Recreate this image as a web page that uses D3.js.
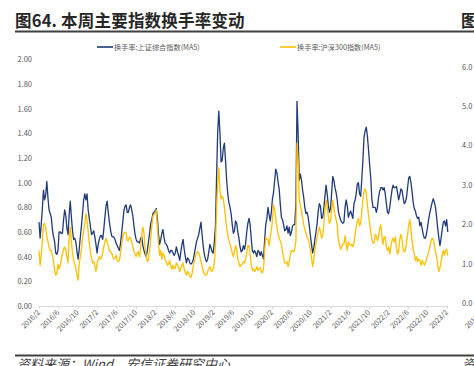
<!DOCTYPE html>
<html><head><meta charset="utf-8">
<script src="https://cdn.jsdelivr.net/npm/d3@7"></script>
<style>
html,body{margin:0;padding:0;background:#fff;}
svg{display:block;}
</style>
</head><body>
<svg id="chart" width="474" height="366"></svg>
<script>
// ---------- data ----------
const titleText = "图64. 本周主要指数换手率变动";
const seriesNames = ["换手率:上证综合指数(MA5)", "换手率:沪深300指数(MA5)"];
const sourceText = "资料来源：Wind，安信证券研究中心";
const startDate = "2016-02-01";          // first weekly observation
const stepDays = 7;                       // weekly observations
const xTickLabels = ["2016/2","2016/6","2016/10","2017/2","2017/6","2017/10","2018/2","2018/6","2018/10",
  "2019/2","2019/6","2019/10","2020/2","2020/6","2020/10","2021/2","2021/6","2021/10","2022/2","2022/6","2022/10","2023/2"];
const yTicks = [0,0.2,0.4,0.6,0.8,1.0,1.2,1.4,1.6,1.8,2.0];
const nextChartYLabels = ["6.0","5.0","4.0","3.0","2.0","1.0","0.0"];

const shComposite = [
0.68,0.55,0.66,0.79,0.94,0.86,0.90,1.01,0.88,0.78,
0.75,0.72,0.62,0.56,0.52,0.43,0.42,0.45,0.60,0.60,
0.59,0.59,0.70,0.78,0.73,0.63,0.58,0.74,0.85,0.72,
0.61,0.54,0.55,0.52,0.44,0.38,0.46,0.56,0.65,0.75,
0.86,0.91,0.86,0.91,0.78,0.71,0.65,0.58,0.59,0.61,
0.56,0.50,0.43,0.50,0.54,0.57,0.57,0.54,0.62,0.72,
0.81,0.85,0.76,0.68,0.62,0.57,0.56,0.56,0.54,0.51,
0.49,0.47,0.45,0.51,0.59,0.68,0.77,0.81,0.82,0.76,
0.76,0.80,0.82,0.78,0.73,0.65,0.58,0.54,0.52,0.52,
0.51,0.55,0.56,0.49,0.45,0.42,0.40,0.45,0.52,0.59,
0.67,0.70,0.75,0.76,0.77,0.79,0.71,0.58,0.50,0.54,
0.59,0.62,0.55,0.51,0.50,0.48,0.45,0.43,0.45,0.45,
0.43,0.41,0.43,0.48,0.44,0.41,0.37,0.44,0.50,0.54,
0.46,0.40,0.35,0.39,0.38,0.35,0.34,0.35,0.37,0.42,
0.47,0.52,0.55,0.58,0.63,0.68,0.58,0.49,0.42,0.38,
0.36,0.38,0.44,0.50,0.47,0.44,0.43,0.52,0.65,1.05,
1.42,1.58,1.40,1.17,1.18,1.28,1.32,1.18,1.02,0.91,
0.84,0.80,0.75,0.66,0.59,0.61,0.69,0.67,0.60,0.55,
0.48,0.44,0.45,0.49,0.46,0.51,0.60,0.67,0.71,0.66,
0.55,0.45,0.43,0.45,0.43,0.40,0.45,0.44,0.41,0.44,
0.41,0.38,0.53,0.66,0.71,0.80,0.74,0.69,0.76,0.87,
0.92,1.02,1.11,1.08,1.01,0.95,0.83,0.72,0.70,0.66,
0.61,0.62,0.65,0.59,0.64,0.57,0.60,0.65,0.66,0.66,
0.84,1.66,1.40,1.02,1.07,1.02,0.94,0.88,0.80,0.75,
0.76,0.72,0.65,0.57,0.50,0.43,0.47,0.54,0.60,0.67,
0.77,0.83,0.81,0.71,0.72,0.79,0.89,0.98,0.91,0.82,
0.76,0.79,0.92,1.05,1.02,0.96,0.92,0.86,0.77,0.73,
0.70,0.68,0.67,0.68,0.80,0.86,0.81,0.72,0.75,0.77,
0.74,0.71,0.83,0.86,0.91,0.99,1.00,0.91,0.89,1.03,
1.18,1.37,1.42,1.45,1.38,1.27,1.15,1.04,0.87,0.80,
0.80,0.80,0.76,0.80,0.88,0.93,0.96,0.96,0.94,0.96,
0.91,0.83,0.76,0.75,0.80,0.87,0.94,0.98,0.96,0.96,
0.97,0.92,0.86,0.90,0.95,0.94,0.88,0.83,0.84,0.88,
0.96,1.04,1.05,1.00,0.93,0.84,0.79,0.77,0.73,0.71,
0.72,0.65,0.68,0.63,0.58,0.55,0.55,0.59,0.65,0.71,
0.76,0.80,0.84,0.87,0.84,0.80,0.72,0.63,0.55,0.49,
0.55,0.62,0.68,0.69,0.65,0.70,0.60];

const csi300 = [
0.45,0.33,0.41,0.53,0.66,0.67,0.64,0.56,0.52,0.48,
0.45,0.45,0.41,0.36,0.29,0.25,0.26,0.34,0.30,0.33,
0.38,0.42,0.46,0.48,0.45,0.40,0.35,0.56,0.64,0.52,
0.43,0.37,0.34,0.30,0.25,0.21,0.34,0.40,0.46,0.55,
0.61,0.67,0.75,0.69,0.61,0.51,0.44,0.39,0.35,0.36,
0.33,0.28,0.34,0.38,0.40,0.38,0.39,0.43,0.48,0.52,
0.55,0.52,0.49,0.45,0.44,0.43,0.40,0.38,0.39,0.41,
0.37,0.36,0.37,0.42,0.50,0.56,0.59,0.60,0.59,0.53,
0.53,0.56,0.55,0.52,0.48,0.44,0.42,0.40,0.43,0.44,
0.40,0.47,0.57,0.64,0.59,0.47,0.40,0.36,0.38,0.45,
0.54,0.65,0.73,0.74,0.75,0.78,0.64,0.50,0.41,0.45,
0.38,0.43,0.41,0.37,0.36,0.33,0.34,0.37,0.32,0.30,
0.33,0.30,0.31,0.35,0.33,0.31,0.28,0.31,0.33,0.35,
0.30,0.27,0.25,0.28,0.27,0.24,0.23,0.26,0.32,0.36,
0.40,0.43,0.44,0.43,0.40,0.36,0.32,0.29,0.26,0.25,
0.25,0.28,0.30,0.32,0.29,0.28,0.30,0.35,0.50,0.78,
1.00,1.12,0.94,0.87,0.89,0.87,0.80,0.71,0.64,0.57,
0.53,0.50,0.47,0.43,0.40,0.44,0.49,0.46,0.38,0.35,
0.32,0.33,0.34,0.36,0.35,0.38,0.43,0.49,0.49,0.42,
0.34,0.29,0.30,0.28,0.29,0.32,0.29,0.30,0.31,0.28,
0.27,0.30,0.45,0.56,0.54,0.54,0.49,0.55,0.61,0.70,
0.82,0.78,0.71,0.64,0.59,0.55,0.53,0.50,0.44,0.39,
0.35,0.35,0.36,0.32,0.36,0.41,0.45,0.45,0.44,0.46,
0.53,1.32,1.18,0.86,0.82,0.77,0.71,0.66,0.62,0.59,
0.56,0.54,0.51,0.46,0.39,0.32,0.38,0.46,0.51,0.56,
0.60,0.64,0.60,0.55,0.57,0.66,0.77,0.86,0.81,0.73,
0.67,0.69,0.78,0.86,0.79,0.74,0.70,0.65,0.54,0.50,
0.46,0.48,0.50,0.50,0.57,0.51,0.45,0.52,0.50,0.49,
0.50,0.48,0.51,0.58,0.64,0.69,0.71,0.65,0.67,0.77,
0.87,0.93,0.95,0.91,0.82,0.74,0.67,0.60,0.54,0.51,
0.51,0.58,0.57,0.53,0.56,0.63,0.66,0.57,0.50,0.56,
0.56,0.48,0.45,0.48,0.42,0.48,0.53,0.55,0.52,0.56,
0.47,0.42,0.45,0.54,0.58,0.54,0.46,0.44,0.45,0.51,
0.58,0.66,0.70,0.62,0.53,0.46,0.42,0.37,0.40,0.36,
0.38,0.37,0.33,0.37,0.35,0.33,0.35,0.38,0.41,0.45,
0.48,0.53,0.55,0.54,0.49,0.44,0.40,0.33,0.28,0.31,
0.36,0.41,0.45,0.41,0.45,0.46,0.41];

// ---------- chart ----------
const colors = ["#1f3a78", "#ffc000"];
const labelColor = "#595959";
const cjk = "'Noto Sans CJK SC','Noto Sans',sans-serif";

const svg = d3.select("#chart");
const parseDay = d3.timeParse("%Y-%m-%d");
const parseTick = d3.timeParse("%Y/%m");
const t0 = parseDay(startDate);
const dates = shComposite.map((_, i) => d3.timeDay.offset(t0, i * stepDays));
const tickDates = xTickLabels.map(s => parseTick(s));

const x = d3.scaleTime()
  .domain([tickDates[0], tickDates[tickDates.length - 1]])
  .range([39, 447]);
const y = d3.scaleLinear().domain([0, 2]).range([306, 59.4]);

// title
svg.append("text").attr("x", 15).attr("y", 27)
  .attr("font-family", cjk).attr("font-size", 16.5).attr("font-weight", 700)
  .attr("letter-spacing", 0.2)
  .attr("fill", "#262626").text(titleText);
svg.append("text").attr("x", 461).attr("y", 27)
  .attr("font-family", cjk).attr("font-size", 16.5).attr("font-weight", 700)
  .attr("fill", "#262626").text("图");
// rules
svg.append("line").attr("x1", 15).attr("x2", 474).attr("y1", 31.5).attr("y2", 31.5)
  .attr("stroke", "#404040").attr("stroke-width", 2);
svg.append("line").attr("x1", 15).attr("x2", 474).attr("y1", 355.5).attr("y2", 355.5)
  .attr("stroke", "#404040").attr("stroke-width", 2);

// source note
svg.append("text").attr("x", 17).attr("y", 369)
  .attr("font-family", cjk).attr("font-size", 13).attr("font-style", "italic")
  .attr("fill", "#404040").text(sourceText);
svg.append("text").attr("x", 462).attr("y", 369)
  .attr("font-family", cjk).attr("font-size", 13).attr("font-style", "italic")
  .attr("fill", "#404040").text("资");

// legend
const legendX = [97, 280];
seriesNames.forEach((name, i) => {
  const g = svg.append("g").attr("transform", `translate(${legendX[i]},47)`);
  g.append("line").attr("x1", 0).attr("x2", 16).attr("y1", 0).attr("y2", 0)
    .attr("stroke", colors[i]).attr("stroke-width", 1.6);
  g.append("text").attr("x", 17).attr("y", 2.6)
    .attr("font-family", cjk).attr("font-size", 7.2).attr("fill", labelColor).text(name);
});

// y axis
const yAxis = svg.append("g").attr("transform", "translate(35,0)")
  .call(d3.axisLeft(y).tickValues(yTicks).tickFormat(d3.format(".2f")).tickSize(0).tickPadding(3));
yAxis.select(".domain").remove();
yAxis.selectAll("text").attr("font-family", cjk).attr("font-size", 7.5).attr("fill", labelColor);

// x axis
const xAxis = svg.append("g").attr("transform", "translate(0,306)")
  .call(d3.axisBottom(x).tickValues(tickDates).tickFormat(d3.timeFormat("%Y/%-m")).tickSize(3).tickSizeOuter(0));
xAxis.select(".domain").attr("stroke", "#d9d9d9").attr("d", "M38,0.5H447");
xAxis.selectAll(".tick line").attr("stroke", "#d9d9d9");
xAxis.selectAll("text")
  .attr("font-family", cjk).attr("font-size", 7.2).attr("fill", labelColor)
  .attr("text-anchor", "end").attr("dy", null).attr("y", 0)
  .attr("transform", "translate(1,7) rotate(-45)");

// series lines
const line = d3.line().x((d, i) => x(dates[i])).y(d => y(d));
[shComposite, csi300].forEach((vals, i) => {
  svg.append("path").datum(vals)
    .attr("fill", "none").attr("stroke", colors[i]).attr("stroke-width", 1.3)
    .attr("stroke-linejoin", "round").attr("d", line);
});

// neighbouring chart's edge (cut off at right)
const y2 = d3.scalePoint().domain(nextChartYLabels).range([67, 303.5]);
svg.append("g").selectAll("text").data(nextChartYLabels).join("text")
  .attr("x", 462).attr("y", d => y2(d) + 2.6)
  .attr("font-family", cjk).attr("font-size", 7.5).attr("fill", labelColor).text(d => d);
svg.append("text").attr("text-anchor", "end")
  .attr("transform", "translate(484,313) rotate(-45)")
  .attr("font-family", cjk).attr("font-size", 7.2).attr("fill", labelColor).text(xTickLabels[0]);
</script>
</body></html>
